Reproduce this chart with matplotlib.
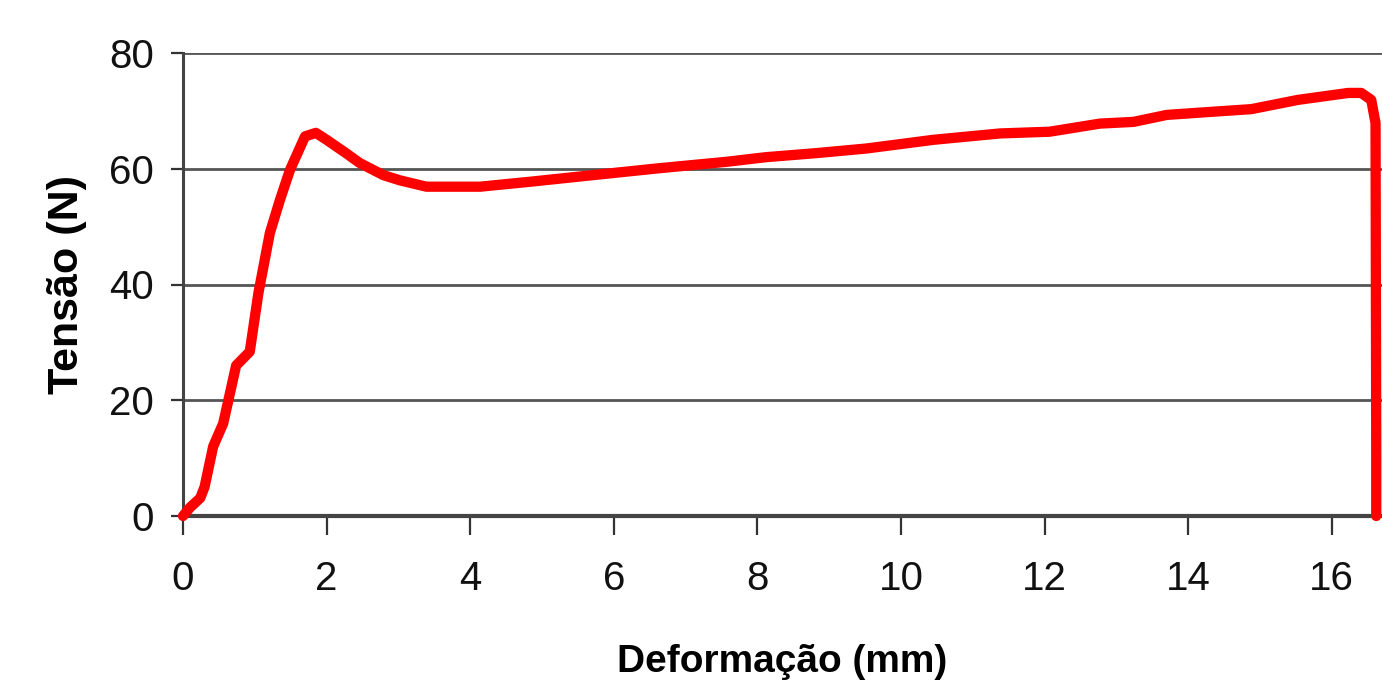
import matplotlib
matplotlib.use("Agg")
import matplotlib.pyplot as plt
from matplotlib.font_manager import FontProperties

# =============================================================================
# Data — tensile test curve
# =============================================================================
deformacao = [0.0, 0.10, 0.24, 0.30, 0.42, 0.56, 0.74, 0.93, 1.05, 1.21,
              1.35, 1.49, 1.70, 1.85, 2.00, 2.27, 2.46, 2.79, 3.02, 3.39,
              4.14, 4.87, 5.71, 6.64, 7.57, 8.12, 8.82, 9.52, 10.45, 11.38,
              12.07, 12.77, 13.24, 13.70, 14.40, 14.88, 15.53, 16.23, 16.41,
              16.55, 16.61, 16.62, 16.62]
tensao = [0.0, 1.5, 3.1, 5.0, 12.0, 16.0, 26.0, 28.4, 38.5, 48.9,
          54.6, 59.8, 65.6, 66.2, 65.0, 62.7, 61.0, 58.9, 58.0, 56.9,
          56.9, 57.8, 58.9, 60.1, 61.2, 62.0, 62.7, 63.5, 65.0, 66.1,
          66.4, 67.8, 68.1, 69.3, 69.9, 70.3, 71.9, 73.1, 73.1,
          71.9, 67.9, 10.0, 0.0]

x_ticks = [0, 2, 4, 6, 8, 10, 12, 14, 16]
y_ticks = [0, 20, 40, 60, 80]

# Helvetica-like text
tick_font = FontProperties(family="Liberation Sans", size=29)
xlab_font = FontProperties(family="Liberation Sans", weight="bold", size=28)
ylab_font = FontProperties(family="Liberation Sans", weight="bold", size=31)

# =============================================================================
# Plot
# =============================================================================
fig = plt.figure(figsize=(13.82, 6.87), dpi=100)
ax = fig.add_axes([183 / 1382, 1 - 516 / 687, 1 - 183 / 1382, (516 - 53) / 687])

ax.plot(deformacao, tensao, color="#ff0000", linewidth=7.4,
        solid_capstyle="round", solid_joinstyle="round", clip_on=False, zorder=3)

ax.set_xlim(0, 16.70)
ax.set_ylim(0, 80)
ax.set_xticks(x_ticks)
ax.set_yticks(y_ticks)

# horizontal grid only
ax.grid(axis="y", color="#555555", linewidth=2.0)
ax.set_axisbelow(True)
for side in ("top", "right"):
    ax.spines[side].set_visible(False)
ax.spines["left"].set_color("#444444")
ax.spines["left"].set_linewidth(2.2)
ax.spines["bottom"].set_color("#444444")
ax.spines["bottom"].set_linewidth(3.0)

ax.tick_params(axis="x", length=14, width=1.6, color="#333333", pad=18)
ax.tick_params(axis="y", length=9, width=1.6, color="#333333", pad=12)
for lbl in ax.get_xticklabels() + ax.get_yticklabels():
    lbl.set_fontproperties(tick_font)
    lbl.set_color("#111111")

ax.set_xlabel("Deformação (mm)", fontproperties=xlab_font, labelpad=33)
ax.set_ylabel("Tensão (N)", fontproperties=ylab_font, labelpad=16)

fig.savefig("out.png", dpi=100)
